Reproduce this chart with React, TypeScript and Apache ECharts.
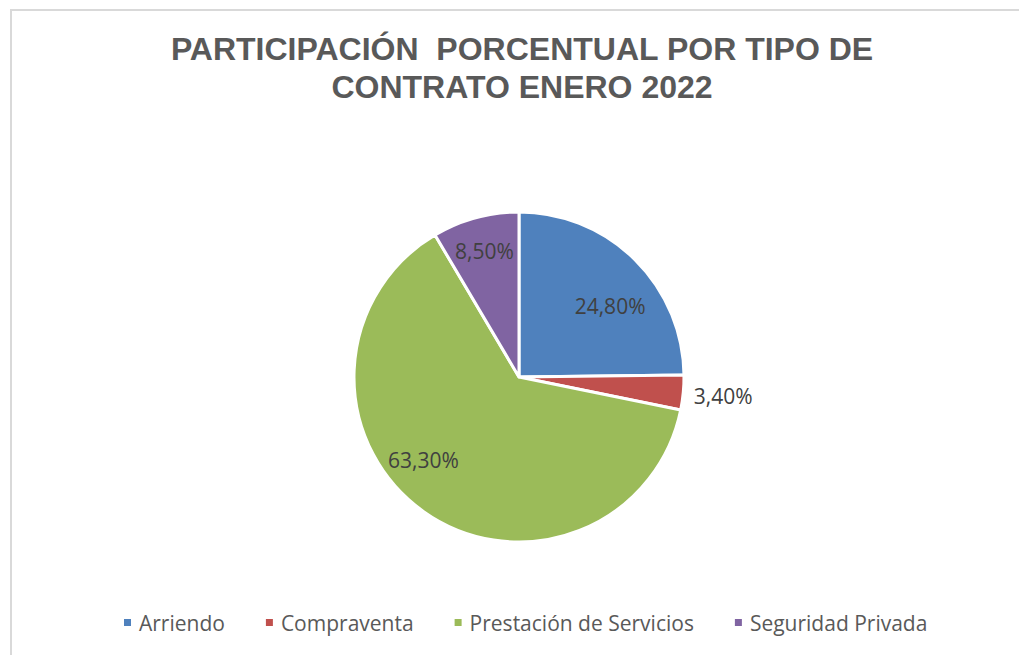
import React, { useEffect, useRef } from "react";
import * as echarts from "echarts";

const categories = ["Arriendo", "Compraventa", "Prestación de Servicios", "Seguridad Privada"];
const values = [24.8, 3.4, 63.3, 8.5];
const colors = ["#4F81BD", "#C0504D", "#9BBB59", "#8064A2"];
const labelOffsets = [[31, -10], [119, 11], [-46, 13], [-12, -44]];
const titleText = "PARTICIPACIÓN  PORCENTUAL POR TIPO DE\nCONTRATO ENERO 2022";

export default function App() {
  const ref = useRef<HTMLDivElement>(null);
  useEffect(() => {
    if (!ref.current) return;
    const chart = echarts.init(ref.current, undefined, { renderer: "svg" });
    chart.setOption({
      animation: false,
      backgroundColor: "#ffffff",
      title: {
        text: titleText,
        left: 517,
        top: 25,
        textAlign: "center",
        textStyle: {
          fontFamily: "Liberation Sans, Arial, sans-serif",
          fontWeight: "bold",
          fontSize: 32,
          color: "#595959",
          lineHeight: 38,
        },
      },
      legend: {
        left: 117,
        top: 607,
        itemWidth: 9,
        itemHeight: 9,
        itemGap: 39,
        icon: "rect",
        data: categories,
        textStyle: {
          fontFamily: "Open Sans, sans-serif",
          fontSize: 21,
          color: "#595959",
          padding: [0, 0, 0, 2],
        },
      },
      graphic: [
        {
          type: "rect",
          shape: { x: 11, y: 10, width: 1020, height: 660 },
          style: { fill: "none", stroke: "#d9d9d9", lineWidth: 2 },
          silent: true,
        },
      ],
      series: [
        {
          type: "pie",
          center: [519, 377],
          radius: 165,
          startAngle: 90,
          clockwise: true,
          avoidLabelOverlap: false,
          labelLine: { show: false },
          itemStyle: { borderColor: "#ffffff", borderWidth: 3 },
          label: {
            show: true,
            position: "inside",
            fontFamily: "Open Sans, sans-serif",
            fontSize: 21,
            color: "#404040",
            formatter: (p: any) => p.value.toFixed(2).replace(".", ",") + "%",
          },
          data: categories.map((name, i) => ({
            name,
            value: values[i],
            itemStyle: { color: colors[i] },
            label: { offset: labelOffsets[i] },
          })),
        },
      ],
    });
    return () => chart.dispose();
  }, []);
  return (
    <div
      ref={ref}
      style={{ position: "fixed", left: 0, top: 0, width: 1019, height: 655 }}
    />
  );
}
